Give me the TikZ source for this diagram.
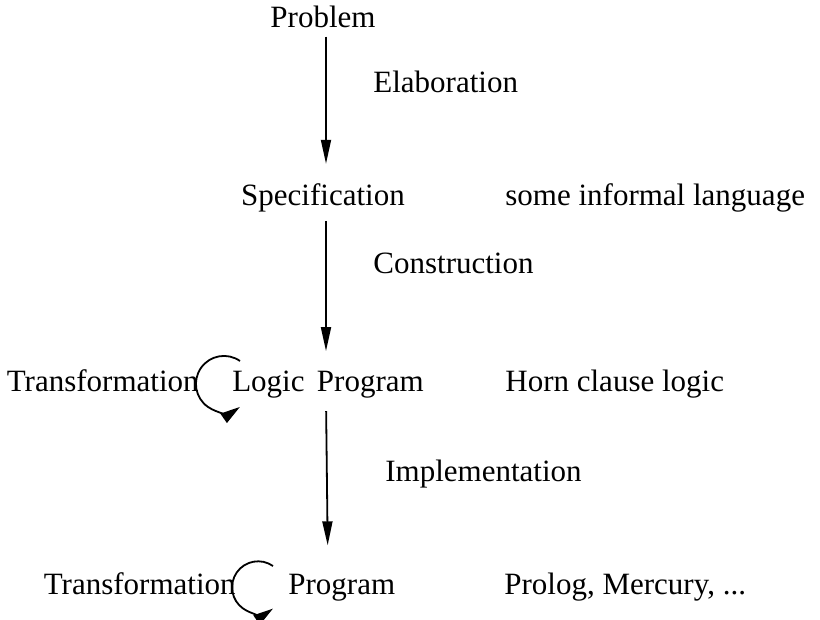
\documentclass[tikz,border=0pt]{standalone}
\usepackage{fontspec}
\setmainfont{Liberation Serif}
\usepackage{tikz}
\usetikzlibrary{calc, arrows.meta, positioning}
\tikzset{
    textnode/.style  = {draw=none, fill=none, rectangle, inner sep = 0em, 
      font=\fontsize{15.5}{18}\selectfont},
    connect/.style = {black, line width=0.9pt, -{Triangle[length=12pt, width=5pt]}},
    turn/.style = {black, line width=0.9pt, -{Triangle[length=10pt, width=5.5pt]}}
}
\begin{document}
\begin{tikzpicture}[x=0.5pt, y=-0.5pt]
    \useasboundingbox (0,0) rectangle (820,620);
    \node[textnode, anchor=base, name=P] at (323,28) {Problem}; 
    \node[textnode, anchor=base, name=S] at (323,206) {Specification}; 
    \node[textnode, anchor=base, name=L] at (328,392) {Logic\hspace{0.4em}Program}; 
    \node[textnode, anchor=base west, name=G] at (288,594) {Program}; 
    \node[textnode, anchor=base west] (E) at (373,93) {Elaboration}; 
    \node[textnode, anchor=base west] (C) at (373,274) {Construction}; 
    \node[textnode, anchor=base west] (I) at (385,481) {Implementation}; 
    \node[textnode, anchor=base west] (S1) at (505,206) {some informal language}; 
    \node[textnode, anchor=base west] (L1) at (505,392) {Horn clause logic}; 
    \node[textnode, anchor=base west] (G1) at (504,594) {Prolog, Mercury, ...}; 
    \node[textnode, anchor=base east, name=T1] at (199,392) {Transformation}; 
    \node[textnode, anchor=base east, name=T2] at (236,594) {Transformation}; 
    \coordinate (T1a) at (240,361);
    \coordinate (T2a) at (273,566);
    \draw ([xshift=1.5pt]P.south) edge[connect, shorten <=4pt, shorten >=10pt] ([xshift=1.5pt]S.north); 
    \draw ([xshift=1.5pt]S.south) edge[connect, shorten <=4pt, shorten >=10pt] ([xshift=-1pt]L.north); 
    \draw ([xshift=-1pt]L.south) edge[connect, shorten <=6pt, shorten >=14pt] (G.north -| L.south); 
    \draw[turn] (T1a) arc[start angle=-55, end angle=-305, radius=28];
    \draw[turn] (T2a) arc[start angle=-55, end angle=-305, radius=26];
\end{tikzpicture}
\end{document}
